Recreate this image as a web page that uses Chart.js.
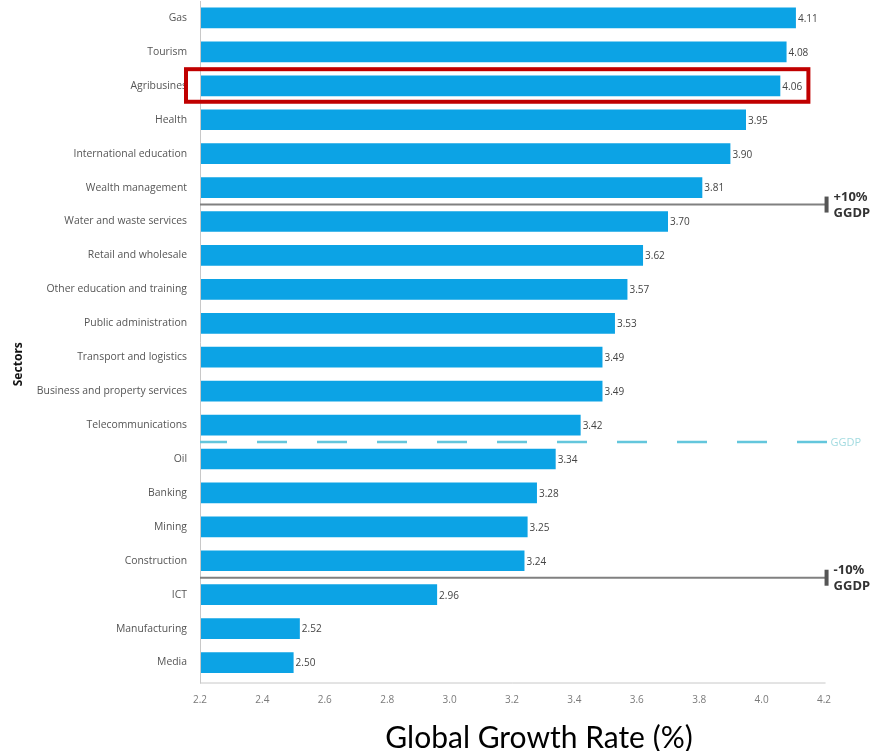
<!DOCTYPE html>
<html>
<head>
<meta charset="utf-8">
<script src="https://cdn.jsdelivr.net/npm/chart.js@4/dist/chart.umd.min.js"></script>
<style>
  html, body { margin: 0; padding: 0; background: #ffffff; }
  #wrap { width: 873px; height: 751px; position: relative; }
</style>
</head>
<body>
<div id="wrap"><canvas id="c" width="873" height="751"></canvas></div>
<script>
const sectors = [
  "Gas", "Tourism", "Agribusines", "Health", "International education",
  "Wealth management", "Water and waste services", "Retail and wholesale",
  "Other education and training", "Public administration", "Transport and logistics",
  "Business and property services", "Telecommunications", "Oil", "Banking",
  "Mining", "Construction", "ICT", "Manufacturing", "Media"
];
const growthRates = [4.11, 4.08, 4.06, 3.95, 3.90, 3.81, 3.70, 3.62, 3.57, 3.53,
  3.49, 3.49, 3.42, 3.34, 3.28, 3.25, 3.24, 2.96, 2.52, 2.50];
const xTickValues = [2.2, 2.4, 2.6, 2.8, 3.0, 3.2, 3.4, 3.6, 3.8, 4.0, 4.2];
// reference lines: placed between these category indices
const refLines = [
  { after: 5, label: ["+10%", "GGDP"], kind: "solid" },
  { after: 12, label: ["GGDP"], kind: "dashed" },
  { after: 16, label: ["-10%", "GGDP"], kind: "solid" }
];
const highlightIndex = 2;
const xTitle = "Global Growth Rate (%)";
const yTitle = "Sectors";

const LABEL_FONT = "'Open Sans', 'Noto Sans', sans-serif";

const overlayPlugin = {
  id: 'overlay',
  afterDatasetsDraw(chart) {
    const ctx = chart.ctx;
    const x = chart.scales.x, y = chart.scales.y, ca = chart.chartArea;
    ctx.save();
    // axis lines
    ctx.strokeStyle = '#c8c8c8';
    ctx.lineWidth = 1;
    ctx.beginPath();
    ctx.moveTo(ca.left + 0.5, ca.top);
    ctx.lineTo(ca.left + 0.5, ca.bottom + 4);
    ctx.moveTo(ca.left, ca.bottom + 3.5);
    ctx.lineTo(x.getPixelForValue(4.205), ca.bottom + 3.5);
    ctx.stroke();

    // value labels
    ctx.font = "10px " + LABEL_FONT;
    ctx.fillStyle = '#444';
    ctx.textBaseline = 'middle';
    ctx.textAlign = 'left';
    const meta = chart.getDatasetMeta(0);
    meta.data.forEach((bar, i) => {
      ctx.fillText(growthRates[i].toFixed(2), bar.x + 2, bar.y + 1);
    });

    // reference lines
    const xEnd = x.getPixelForValue(4.205);
    refLines.forEach(r => {
      const yy = (y.getPixelForValue(r.after) + y.getPixelForValue(r.after + 1)) / 2;
      if (r.kind === 'solid') {
        ctx.strokeStyle = '#808080';
        ctx.lineWidth = 2;
        ctx.setLineDash([]);
        ctx.beginPath();
        ctx.moveTo(ca.left, yy);
        ctx.lineTo(xEnd, yy);
        ctx.stroke();
        ctx.fillStyle = '#555';
        ctx.fillRect(xEnd - 1, yy - 8, 4, 16);
        ctx.fillStyle = '#333';
        ctx.font = "bold 13px 'Noto Sans', 'Open Sans', sans-serif";
        ctx.textAlign = 'left';
        ctx.textBaseline = 'middle';
        ctx.fillText(r.label[0], xEnd + 8, yy - 7);
        ctx.fillText(r.label[1], xEnd + 8, yy + 9);
      } else {
        ctx.strokeStyle = '#63c6dc';
        ctx.lineWidth = 2.5;
        ctx.setLineDash([30, 30]);
        ctx.lineDashOffset = 3;
        ctx.beginPath();
        ctx.moveTo(ca.left, yy);
        ctx.lineTo(xEnd + 2, yy);
        ctx.stroke();
        ctx.setLineDash([]);
        ctx.fillStyle = '#a3dbe0';
        ctx.font = "11px " + LABEL_FONT;
        ctx.textAlign = 'left';
        ctx.textBaseline = 'middle';
        ctx.fillText(r.label[0], xEnd + 5, yy + 1);
      }
    });

    // highlight box
    const hy0 = y.getPixelForValue(highlightIndex - 0.49);
    const hy1 = y.getPixelForValue(highlightIndex + 0.47);
    ctx.strokeStyle = '#c00000';
    ctx.lineWidth = 4;
    ctx.strokeRect(ca.left - 14, hy0, x.getPixelForValue(4.15) - (ca.left - 14), hy1 - hy0);

    // axis titles
    ctx.fillStyle = '#000';
    ctx.font = "30px Lato, 'Open Sans', sans-serif";
    ctx.textAlign = 'center';
    ctx.textBaseline = 'middle';
    ctx.fillText(xTitle, (ca.left + ca.right) / 2 + 27, 738);

    ctx.translate(19, (ca.top + ca.bottom) / 2 + 24);
    ctx.rotate(-Math.PI / 2);
    ctx.font = "bold 12px 'Noto Sans', 'Open Sans', sans-serif";
    ctx.fillStyle = '#111';
    ctx.fillText(yTitle, 0, 0);
    ctx.restore();
  }
};

new Chart(document.getElementById('c'), {
  type: 'bar',
  data: {
    labels: sectors,
    datasets: [{
      data: growthRates,
      backgroundColor: '#0ca3e5',
      borderWidth: 0,
      barPercentage: 0.61,
      categoryPercentage: 1.0,
      base: 2.2
    }]
  },
  plugins: [overlayPlugin],
  options: {
    indexAxis: 'y',
    responsive: false,
    animation: false,
    devicePixelRatio: 1,
    layout: { padding: { top: 1, right: 49, left: 0, bottom: 0 } },
    plugins: { legend: { display: false }, tooltip: { enabled: false } },
    scales: {
      x: {
        type: 'linear',
        min: 2.2,
        max: 4.2,
        afterBuildTicks(scale) { scale.ticks = xTickValues.map(v => ({ value: v })); },
        afterFit(scale) { scale.height = 71.5; scale.paddingLeft = 0; scale.paddingRight = 0; },
        grid: { display: false, drawTicks: false },
        border: { display: false },
        ticks: {
          padding: 15,
          color: '#7a7a7a',
          font: { family: LABEL_FONT, size: 10 },
          callback: v => Number(v).toFixed(1)
        }
      },
      y: {
        afterFit(scale) { scale.width = 200; scale.paddingTop = 0; scale.paddingBottom = 0; },
        grid: { display: false, drawTicks: false },
        border: { display: false },
        ticks: {
          padding: 13,
          color: '#555',
          font: { family: LABEL_FONT, size: 10.4 }
        }
      }
    }
  }
});
</script>
</body>
</html>
